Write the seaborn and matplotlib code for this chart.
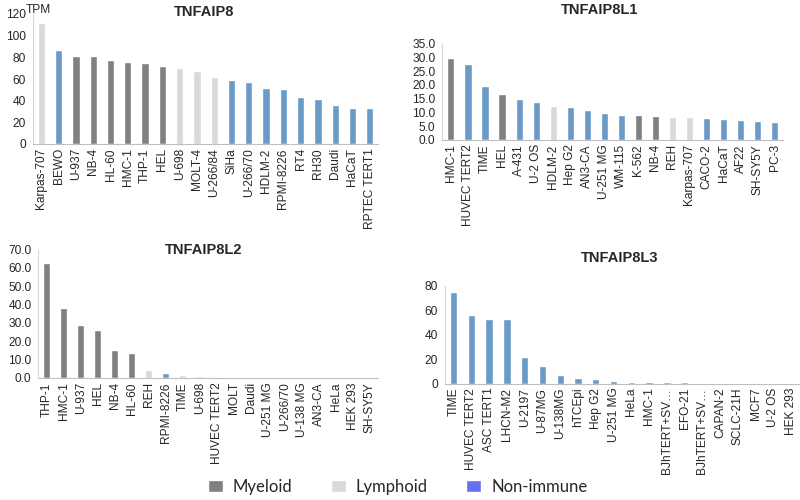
import numpy as np
import pandas as pd
import matplotlib
matplotlib.use("Agg")
import matplotlib.pyplot as plt
import seaborn as sns
from matplotlib.patches import Patch
from matplotlib.ticker import FormatStrFormatter

sns.set_style("white")
plt.rcParams['font.family'] = ['Liberation Sans', 'DejaVu Sans']

# colores por tipo de celula
colores = {"Myeloid": "#808080", "Lymphoid": "#D9D9D9", "Non-immune": "#5B9BD5"}
color_leyenda = {"Myeloid": "#808080", "Lymphoid": "#D9D9D9", "Non-immune": "#6670F2"}

# TNFAIP8
celulas_8 = ["Karpas-707", "BEWO", "U-937", "NB-4", "HL-60", "HMC-1", "THP-1", "HEL",
             "U-698", "MOLT-4", "U-266/84", "SiHa", "U-266/70", "HDLM-2", "RPMI-8226",
             "RT4", "RH30", "Daudi", "HaCaT", "RPTEC TERT1"]
tpm_8 = [111.7, 86.8, 81.2, 81.0, 78.0, 75.6, 74.8, 72.3, 70.0, 67.7, 61.8, 59.0,
         57.5, 52.0, 51.0, 43.0, 42.0, 36.3, 33.6, 33.5]
tipo_8 = ["Lymphoid", "Non-immune", "Myeloid", "Myeloid", "Myeloid", "Myeloid", "Myeloid",
          "Myeloid", "Lymphoid", "Lymphoid", "Lymphoid", "Non-immune", "Non-immune",
          "Non-immune", "Non-immune", "Non-immune", "Non-immune", "Non-immune",
          "Non-immune", "Non-immune"]

# TNFAIP8L1
celulas_l1 = ["HMC-1", "HUVEC TERT2", "TIME", "HEL", "A-431", "U-2 OS", "HDLM-2", "Hep G2",
              "AN3-CA", "U-251 MG", "WM-115", "K-562", "NB-4", "REH", "Karpas-707",
              "CACO-2", "HaCaT", "AF22", "SH-SY5Y", "PC-3"]
tpm_l1 = [29.9, 27.5, 19.7, 16.8, 14.9, 13.8, 12.4, 11.9, 10.7, 9.9, 9.2, 8.9, 8.7,
          8.5, 8.4, 8.0, 7.5, 7.1, 6.8, 6.6]
tipo_l1 = ["Myeloid", "Non-immune", "Non-immune", "Myeloid", "Non-immune", "Non-immune",
           "Lymphoid", "Non-immune", "Non-immune", "Non-immune", "Non-immune", "Myeloid",
           "Myeloid", "Lymphoid", "Lymphoid", "Non-immune", "Non-immune", "Non-immune",
           "Non-immune", "Non-immune"]

# TNFAIP8L2
celulas_l2 = ["THP-1", "HMC-1", "U-937", "HEL", "NB-4", "HL-60", "REH", "RPMI-8226", "TIME",
              "U-698", "HUVEC TERT2", "MOLT", "Daudi", "U-251 MG", "U-266/70", "U-138 MG",
              "AN3-CA", "HeLa", "HEK 293", "SH-SY5Y"]
tpm_l2 = [62.8, 37.9, 28.6, 25.9, 15.4, 13.5, 4.5, 2.6, 1.8, 1.1, 0.3, 0.2, 0.2, 0.2,
          0.1, 0.1, 0.1, 0.1, 0.1, 0.1]
tipo_l2 = ["Myeloid", "Myeloid", "Myeloid", "Myeloid", "Myeloid", "Myeloid", "Lymphoid",
           "Non-immune", "Lymphoid", "Lymphoid", "Non-immune", "Lymphoid", "Lymphoid",
           "Non-immune", "Lymphoid", "Non-immune", "Non-immune", "Non-immune",
           "Non-immune", "Non-immune"]

# TNFAIP8L3
celulas_l3 = ["TIME", "HUVEC TERT2", "ASC TERT1", "LHCN-M2", "U-2197", "U-87MG", "U-138MG",
              "hTCEpi", "Hep G2", "U-251 MG", "HeLa", "HMC-1", "BJhTERT+SV…", "EFO-21",
              "BJhTERT+SV…", "CAPAN-2", "SCLC-21H", "MCF7", "U-2 OS", "HEK 293"]
tpm_l3 = [75.4, 56.5, 53.0, 53.0, 21.6, 14.2, 6.8, 4.6, 3.5, 1.8, 1.4, 1.2, 1.1, 1.0,
          0.8, 0.7, 0.6, 0.5, 0.2, 0.1]
tipo_l3 = ["Non-immune"] * 11 + ["Myeloid"] + ["Non-immune"] * 8

paneles = [
    ("TNFAIP8", celulas_8, tpm_8, tipo_8, 120, 20, "%d"),
    ("TNFAIP8L1", celulas_l1, tpm_l1, tipo_l1, 35, 5, "%.1f"),
    ("TNFAIP8L2", celulas_l2, tpm_l2, tipo_l2, 70, 10, "%.1f"),
    ("TNFAIP8L3", celulas_l3, tpm_l3, tipo_l3, 80, 20, "%d"),
]

# posiciones de los ejes y titulos (fraccion de figura)
posiciones = [[0.041, 0.712, 0.432, 0.260],
              [0.553, 0.720, 0.426, 0.193],
              [0.048, 0.244, 0.425, 0.257],
              [0.556, 0.233, 0.444, 0.195]]
titulos_xy = [(0.255, 0.976), (0.75, 0.98), (0.255, 0.50), (0.775, 0.484)]

fig = plt.figure(figsize=(8, 5), dpi=100)

for (titulo, celulas, tpm, tipo, ymax, paso, fmt), pos, txy in zip(paneles, posiciones, titulos_xy):
    ax = fig.add_axes(pos)
    df = pd.DataFrame({"celula": range(len(celulas)), "tpm": tpm, "tipo": tipo})
    sns.barplot(data=df, x="celula", y="tpm", hue="tipo", palette=colores,
                dodge=False, width=0.42, legend=False, ax=ax)
    ax.set_xticks(range(len(celulas)))
    ax.set_xticklabels(celulas, rotation=90, fontsize=8.6)
    ax.set_xticks(np.arange(-0.5, len(celulas)), minor=True)
    ax.tick_params(axis="x", which="major", length=0, pad=3)
    ax.tick_params(axis="x", which="minor", length=3, color="#BFBFBF", direction="out")
    ax.set_xlim(-0.5, len(celulas) - 0.5)
    ax.set_ylim(0, ymax)
    ax.set_yticks(np.arange(0, ymax + 0.1, paso))
    ax.yaxis.set_major_formatter(FormatStrFormatter(fmt))
    ax.tick_params(axis="y", labelsize=8.6, length=3, color="#BFBFBF", direction="out", pad=2)
    ax.set_xlabel("")
    ax.set_ylabel("")
    for lado in ["top", "right"]:
        ax.spines[lado].set_visible(False)
    ax.spines["bottom"].set_color("#BFBFBF")
    ax.spines["left"].set_color("#D9D9D9")
    fig.text(txy[0], txy[1], titulo, ha="center", va="center", fontsize=10.5, fontweight="bold")

fig.text(0.048, 0.98, "TPM", ha="center", va="center", fontsize=8.6)

# leyenda
manijas = [Patch(facecolor=color_leyenda[k], label=k) for k in ["Myeloid", "Lymphoid", "Non-immune"]]
fig.legend(handles=manijas, loc="center", bbox_to_anchor=(0.497, 0.026), ncol=3, frameon=False,
           prop={"family": "Lato", "size": 12}, handlelength=0.9, handleheight=0.75,
           columnspacing=2.3, handletextpad=0.6)

fig.savefig("out.png", dpi=100)
